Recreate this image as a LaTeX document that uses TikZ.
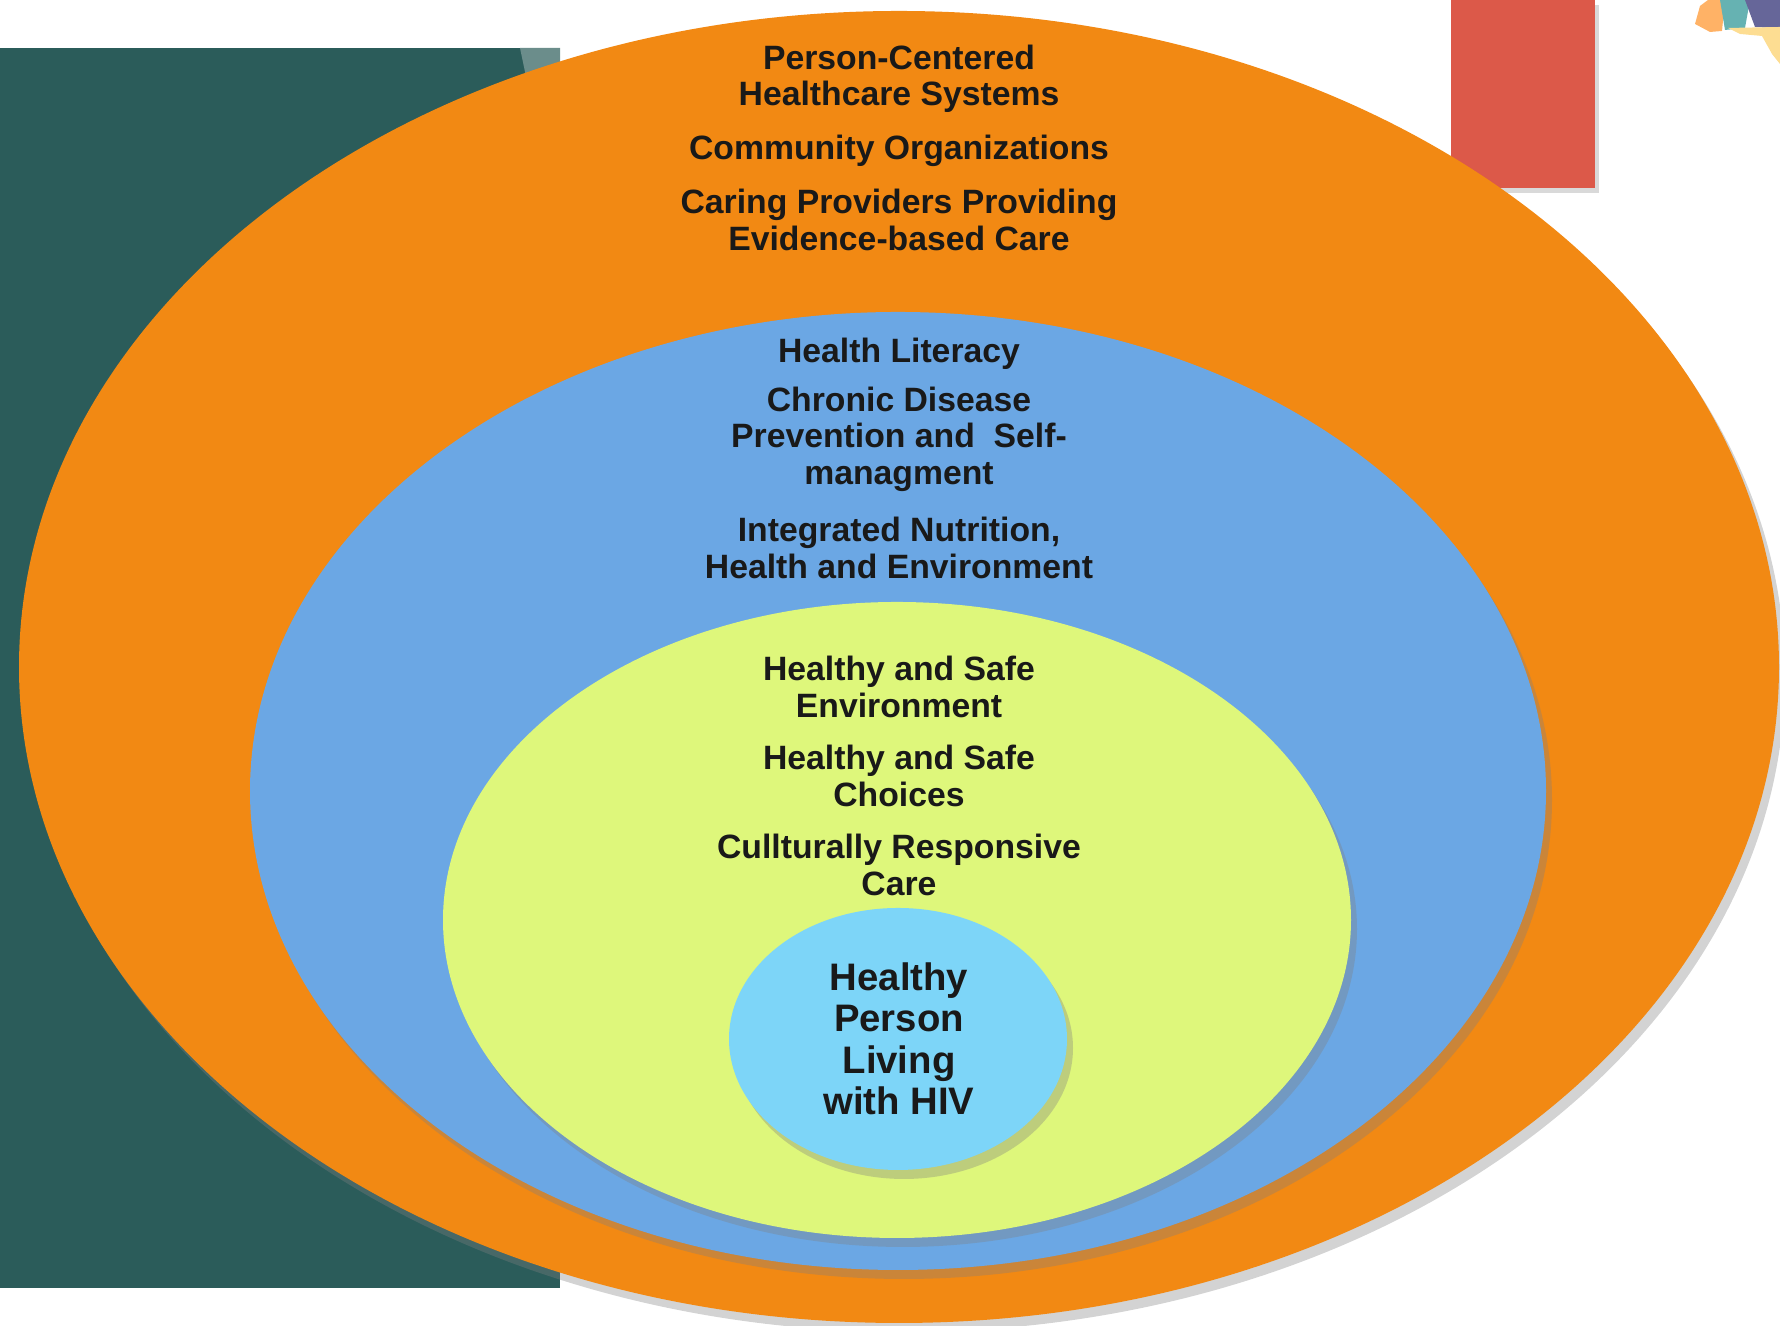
\documentclass[tikz,border=0pt]{standalone}
\usepackage{fontspec}
\setmainfont{Liberation Sans}
\usetikzlibrary{shadows}

\definecolor{tealbg}{HTML}{2B5C5A}
\definecolor{redbox}{HTML}{DC5949}
\definecolor{ringorange}{HTML}{F28913}
\definecolor{ringblue}{HTML}{6BA7E4}
\definecolor{ringgreen}{HTML}{DEF77B}
\definecolor{ringcore}{HTML}{7DD5F8}

\tikzset{
	ring/.style={drop shadow={opacity=0.35,shadow xshift=0.06,shadow yshift=-0.09}},
	lbl/.style={align=center,inner sep=0pt,text=black!90,
		font=\bfseries\fontsize{9.6}{10.4}\selectfont},
	corelbl/.style={lbl,font=\bfseries\fontsize{10.9}{11.8}\selectfont}
}

\begin{document}
\begin{tikzpicture}

	\useasboundingbox (0,0) rectangle (17.8,13.26);

	% slide background
	\fill[tealbg] (0,0.38) rectangle (5.60,12.78);
	\fill[tealbg!70!white] (5.20,12.78) -- (5.60,12.78) -- (5.60,12.40) -- (5.28,12.40) -- cycle;
	\fill[redbox,drop shadow={opacity=0.3,shadow xshift=0.04,shadow yshift=-0.05}] (14.51,11.38) rectangle (15.95,13.26);

	\fill[orange!60!white] (16.95,13.02) -- (17.00,13.20) -- (17.08,13.26) -- (17.25,13.26) -- (17.22,12.95) -- (17.10,12.94) -- cycle;
	\fill[teal!60!white] (17.20,13.26) -- (17.50,13.26) -- (17.45,12.98) -- (17.25,12.96) -- cycle;
	\fill[gray!80!blue] (17.45,13.26) -- (17.80,13.26) -- (17.80,12.98) -- (17.55,12.99) -- cycle;
	\fill[yellow!40!orange!40!white] (17.28,12.98) -- (17.80,12.99) -- (17.80,12.62) -- (17.72,12.72) -- (17.62,12.90) -- (17.40,12.92) -- cycle;

	% rings
	\fill[ringorange,ring] (8.99,6.59) ellipse (8.80 and 6.56);
	\fill[ringblue,ring] (8.98,5.35) ellipse (6.48 and 4.79);
	\fill[ringgreen,ring] (8.97,4.06) ellipse (4.54 and 3.18);
	\fill[ringcore,ring] (8.98,2.87) ellipse (1.69 and 1.31);

	\node[lbl] (systems) at (8.99,12.47) {Person-Centered\\Healthcare Systems};
	\node[lbl] (community) at (8.99,11.75) {Community Organizations};
	\node[lbl] (providers) at (8.99,11.06) {Caring Providers Providing\\Evidence-based Care};

	\node[lbl] (literacy) at (8.99,9.72) {Health Literacy};
	\node[lbl] (chronic) at (8.99,8.87) {Chronic Disease\\Prevention and\ \ Self-\\managment};
	\node[lbl] (nutrition) at (8.99,7.78) {Integrated Nutrition,\\Health and Environment};

	\node[lbl] (environment) at (8.99,6.39) {Healthy and Safe\\Environment};
	\node[lbl] (choices) at (8.99,5.50) {Healthy and Safe\\Choices};
	\node[lbl] (culture) at (8.99,4.61) {Cullturally Responsive\\Care};

	\node[corelbl] (person) at (8.99,2.87) {Healthy\\Person\\Living\\with HIV};

\end{tikzpicture}
\end{document}
